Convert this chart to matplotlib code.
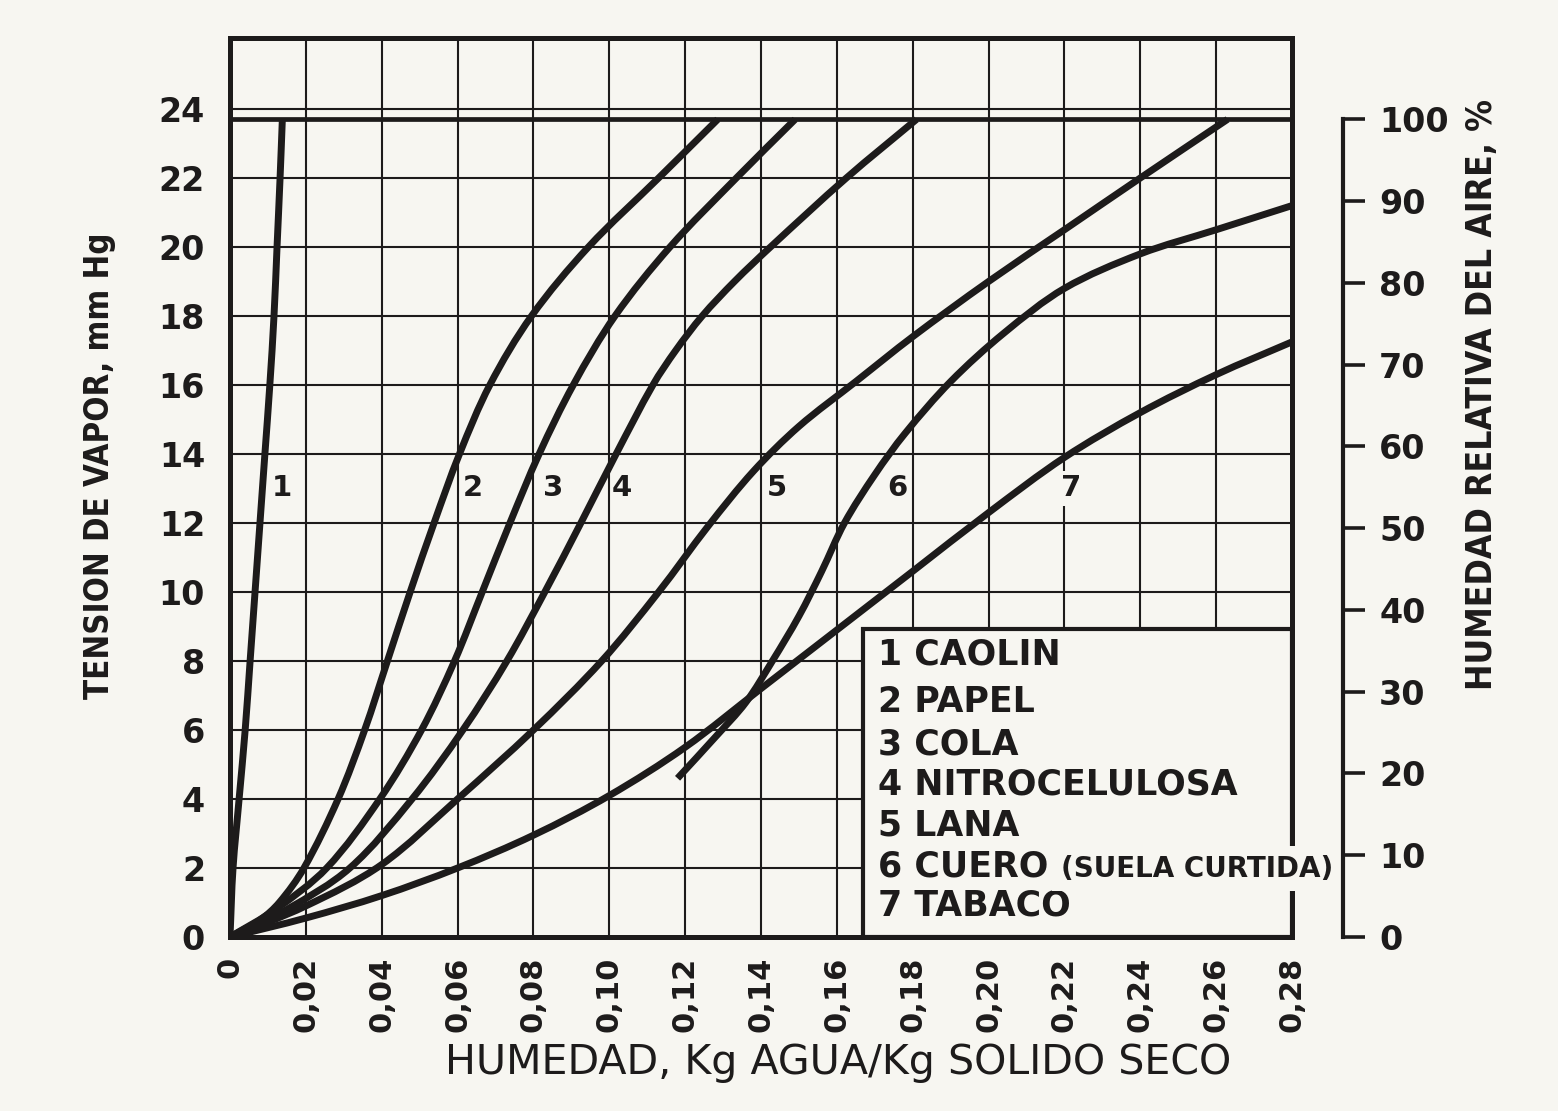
import matplotlib
matplotlib.use('Agg')
import numpy as np
import matplotlib.pyplot as plt
import matplotlib.font_manager as fm
from matplotlib.patches import Rectangle, PathPatch
from matplotlib.path import Path

PAPER = '#f7f6f1'
INK = '#1d1b1b'
FONT = 'DejaVu Sans'

# ---------------- data ----------------
x_ticks = [0, 0.02, 0.04, 0.06, 0.08, 0.10, 0.12, 0.14, 0.16, 0.18, 0.20, 0.22, 0.24, 0.26, 0.28]
x_tick_labels = ['0', '0,02', '0,04', '0,06', '0,08', '0,10', '0,12', '0,14',
                 '0,16', '0,18', '0,20', '0,22', '0,24', '0,26', '0,28']
y_ticks = [0, 2, 4, 6, 8, 10, 12, 14, 16, 18, 20, 22, 24]
rh_ticks = [0, 10, 20, 30, 40, 50, 60, 70, 80, 90, 100]
P_SAT = 23.7  # mm Hg at 100 % relative humidity

materials = ['1 CAOLIN', '2 PAPEL', '3 COLA', '4 NITROCELULOSA', '5 LANA', '6 CUERO', '7 TABACO']
curve_numbers = ['1', '2', '3', '4', '5', '6', '7']

caolin_x = [0, 0.0008, 0.0024, 0.0040, 0.0053, 0.0066, 0.0079, 0.0092, 0.0105, 0.0116, 0.0124, 0.0132, 0.0138]
caolin_y = [0, 2, 4, 6, 8, 10, 12, 14, 16, 18, 20, 22, 23.7]

papel_x = [0, 0.008, 0.013, 0.0195, 0.0285, 0.0355, 0.0415, 0.0475, 0.0538, 0.0605, 0.0685, 0.0795, 0.0945, 0.113, 0.1286]
papel_y = [0, 0.5, 1.0, 2.0, 4.0, 6.0, 8.0, 10.0, 12.0, 14.0, 16.0, 18.0, 20.0, 22.0, 23.7]

cola_x = [0, 0.012, 0.0255, 0.0395, 0.0505, 0.0592, 0.0665, 0.0738, 0.0815, 0.0905, 0.1015, 0.116, 0.1335, 0.149]
cola_y = [0, 0.8, 2.0, 4.0, 6.0, 8.0, 10.0, 12.0, 14.0, 16.0, 18.0, 20.0, 22.0, 23.7]

nitro_x = [0, 0.015, 0.0316, 0.048, 0.0614, 0.073, 0.083, 0.0925, 0.1018, 0.1115, 0.1175, 0.1245, 0.133, 0.1425, 0.1625, 0.181]
nitro_y = [0, 0.8, 2.0, 4.0, 6.0, 8.0, 10.0, 12.0, 14.0, 16.0, 17.0, 18.0, 19.0, 20.0, 22.0, 23.7]

lana_x = [0, 0.02, 0.04, 0.06, 0.08, 0.098, 0.113, 0.126, 0.138, 0.150, 0.165, 0.18, 0.20, 0.22, 0.24, 0.263]
lana_y = [0, 0.9, 2.1, 4.0, 6.0, 8.0, 10.0, 11.9, 13.5, 14.8, 16.1, 17.4, 19.0, 20.5, 22.0, 23.7]

cuero_x = [0.118, 0.128, 0.136, 0.143, 0.150, 0.156, 0.162, 0.170, 0.178, 0.19, 0.204, 0.22, 0.24, 0.26, 0.28]
cuero_y = [4.6, 5.8, 6.8, 8.0, 9.3, 10.6, 12.0, 13.4, 14.6, 16.1, 17.5, 18.8, 19.8, 20.5, 21.2]

tabaco_x = [0, 0.02, 0.04, 0.06, 0.08, 0.10, 0.12, 0.14, 0.16, 0.18, 0.20, 0.22, 0.24, 0.26, 0.28]
tabaco_y = [0, 0.55, 1.2, 2.0, 2.95, 4.1, 5.5, 7.2, 8.9, 10.6, 12.3, 13.9, 15.2, 16.3, 17.25]

curves_x = [caolin_x, papel_x, cola_x, nitro_x, lana_x, cuero_x, tabaco_x]
curves_y = [caolin_y, papel_y, cola_y, nitro_y, lana_y, cuero_y, tabaco_y]

# layout (positions of annotations)
num_label_x = [0.0137, 0.0640, 0.0851, 0.1033, 0.1441, 0.1760, 0.2219]
num_label_boxed = [False, False, False, False, False, False, True]
num_label_y = 13.0
legend_y = [8.20, 6.81, 5.59, 4.43, 3.22, 2.03, 0.90]

# narrower face for the vertical titles, if one is installed
_names = {(f.name, f.stretch) for f in fm.fontManager.ttflist}
if any(n == 'Liberation Sans Narrow' for n, _ in _names):
    TITLE_FONT, TITLE_STRETCH = 'Liberation Sans Narrow', 'normal'
elif any(n == 'DejaVu Sans' and s in ('condensed', 'semi-condensed') for n, s in _names):
    TITLE_FONT, TITLE_STRETCH = 'DejaVu Sans', 'condensed'
else:
    TITLE_FONT, TITLE_STRETCH = 'DejaVu Sans', 'normal'


def smooth_path(xs, ys, trans):
    """Cubic Bezier path through the read points, tangents from chord lengths in pixels."""
    P = trans.transform(np.column_stack([xs, ys]))
    n = len(P)
    d = np.hypot(*np.diff(P, axis=0).T)
    T = np.zeros_like(P)
    for i in range(n):
        if i == 0:
            T[i] = (P[1] - P[0]) / d[0]
        elif i == n - 1:
            T[i] = (P[-1] - P[-2]) / d[-1]
        else:
            T[i] = (P[i + 1] - P[i - 1]) / (d[i - 1] + d[i])
    verts = [P[0]]
    codes = [Path.MOVETO]
    for i in range(n - 1):
        verts += [P[i] + T[i] * d[i] / 3.0, P[i + 1] - T[i + 1] * d[i] / 3.0, P[i + 1]]
        codes += [Path.CURVE4] * 3
    verts = trans.inverted().transform(np.array(verts))
    return Path(verts, codes)


def fit_length(txt, target_px, vertical=True):
    r = fig.canvas.get_renderer()
    for _ in range(4):
        bb = txt.get_window_extent(r)
        cur = bb.height if vertical else bb.width
        txt.set_fontsize(txt.get_fontsize() * target_px / cur)


# ---------------- figure ----------------
fig = plt.figure(figsize=(15.58, 11.11), dpi=100, facecolor=PAPER)
ax = fig.add_axes([230 / 1558, 1 - 937 / 1111, (1292 - 230) / 1558, (937 - 38) / 1111])
ax.set_facecolor(PAPER)
YTOP = (937 - 38) / 34.5
ax.set_xlim(0, 0.28)
ax.set_ylim(0, YTOP)

ax.set_xticks(x_ticks)
ax.set_xticklabels(x_tick_labels, rotation=90, fontsize=22, fontweight='bold',
                   family=FONT, color=INK)
ax.set_yticks(y_ticks)
ax.set_yticklabels([str(v) for v in y_ticks], fontsize=24, fontweight='bold',
                   family=FONT, color=INK)
ax.tick_params(axis='x', length=0, pad=14)
ax.tick_params(axis='y', length=0, pad=18)
ax.grid(True, color=INK, lw=1.5, zorder=1)
ax.set_axisbelow(True)
for s in ax.spines.values():
    s.set_linewidth(3.6)
    s.set_color(INK)

# saturation (100 %) line
ax.axhline(P_SAT, color=INK, lw=3.4, zorder=2)

for cx, cy in zip(curves_x, curves_y):
    ax.add_patch(PathPatch(smooth_path(cx, cy, ax.transData), fill=False, edgecolor=INK,
                           lw=5.0, capstyle='butt', joinstyle='round', zorder=3))

for n, lx, boxed in zip(curve_numbers, num_label_x, num_label_boxed):
    kw = {}
    if boxed:
        kw['bbox'] = dict(boxstyle='square,pad=0.12', fc=PAPER, ec='none')
    ax.text(lx, num_label_y, n, fontsize=21, fontweight='bold', family=FONT, color=INK,
            ha='center', va='center', zorder=2.5, **kw)

# legend box
bx0 = (863 - 230) / 75.9 * 0.02
by1 = (937 - 629) / 34.5
ax.add_patch(Rectangle((bx0, 0), 0.28 - bx0, by1, facecolor=PAPER, edgecolor=INK,
                       lw=3.0, zorder=4, clip_on=False))
tx = (878 - 230) / 75.9 * 0.02
for name, ly in zip(materials, legend_y):
    ax.text(tx, ly, name, fontsize=25, fontweight='bold', family=FONT, color=INK,
            ha='left', va='center', zorder=5)
ax.text((1061 - 230) / 75.9 * 0.02, legend_y[5] - 0.05, '(SUELA CURTIDA)', fontsize=20,
        fontweight='bold', family=FONT, color=INK, ha='left', va='center', zorder=6,
        clip_on=False, bbox=dict(boxstyle='square,pad=0.3', fc=PAPER, ec='none'))

# right axis: relative humidity
ax2 = ax.twinx()
ax2.set_ylim(0, YTOP / P_SAT * 100)
for s in ['top', 'bottom', 'left']:
    ax2.spines[s].set_visible(False)
ax2.spines['right'].set_position(('axes', (1343 - 230) / (1292 - 230)))
ax2.spines['right'].set_bounds(0, 100)
ax2.spines['right'].set_linewidth(3.0)
ax2.spines['right'].set_color(INK)
ax2.set_yticks(rh_ticks)
ax2.set_yticklabels([str(v) for v in rh_ticks], fontsize=24, fontweight='bold',
                    family=FONT, color=INK)
ax2.tick_params(axis='y', direction='out', length=16, width=2.6, pad=10, colors=INK)

# axis titles
t_left = fig.text(100 / 1558, 1 - 466 / 1111, 'TENSION DE VAPOR, mm Hg', rotation=90,
                  fontsize=22, fontweight='bold', family=TITLE_FONT, stretch=TITLE_STRETCH,
                  color=INK, ha='center', va='center')
t_bottom = fig.text(838 / 1558, 1 - 1063 / 1111, 'HUMEDAD, Kg AGUA/Kg SOLIDO SECO',
                    fontsize=29.5, family=FONT, color=INK, ha='center', va='center')
t_right = fig.text(1482 / 1558, 1 - 395 / 1111, 'HUMEDAD RELATIVA DEL AIRE, %', rotation=90,
                   fontsize=23, fontweight='bold', family=TITLE_FONT, stretch=TITLE_STRETCH,
                   color=INK, ha='center', va='center')
fit_length(t_left, 468, vertical=True)
fit_length(t_right, 590, vertical=True)
fit_length(t_bottom, 787, vertical=False)

fig.savefig('out.png', dpi=100, facecolor=PAPER)
